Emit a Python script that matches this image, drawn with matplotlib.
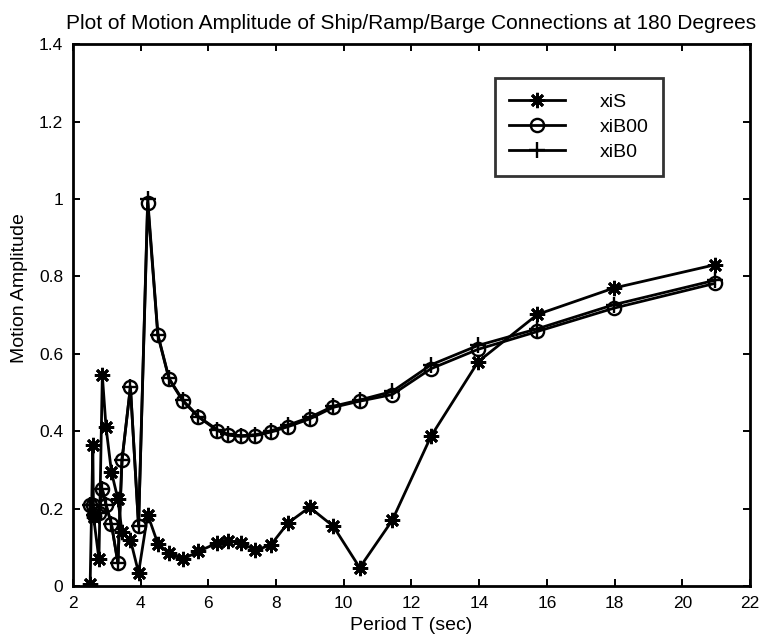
import matplotlib.pyplot as plt

plt.rcParams['font.family'] = ['Liberation Sans', 'DejaVu Sans']

# Period T (sec).
period = [2.51, 2.59, 2.61, 2.77, 2.87, 2.98, 3.14, 3.33, 3.45, 3.70, 3.94,
          4.21, 4.51, 4.84, 5.25, 5.71, 6.27, 6.59, 6.97, 7.38, 7.84, 8.35,
          8.99, 9.69, 10.47, 11.43, 12.58, 13.97, 15.72, 17.97, 20.95]

xiS = [0.005, 0.365, 0.18, 0.07, 0.545, 0.41, 0.295, 0.225, 0.14, 0.12, 0.035,
       0.185, 0.11, 0.085, 0.07, 0.09, 0.112, 0.118, 0.112, 0.093, 0.106, 0.163,
       0.204, 0.155, 0.048, 0.17, 0.388, 0.58, 0.702, 0.77, 0.83]

xiB00 = [0.21, 0.21, 0.185, 0.19, 0.25, 0.21, 0.16, 0.06, 0.325, 0.515, 0.155,
         0.99, 0.648, 0.535, 0.478, 0.437, 0.402, 0.39, 0.387, 0.389, 0.398, 0.412,
         0.432, 0.462, 0.478, 0.495, 0.562, 0.612, 0.658, 0.718, 0.782]

xiB0 = [0.21, 0.21, 0.185, 0.19, 0.25, 0.21, 0.16, 0.06, 0.325, 0.515, 0.155,
        1.0, 0.65, 0.537, 0.48, 0.438, 0.404, 0.392, 0.389, 0.391, 0.401, 0.416,
        0.436, 0.465, 0.481, 0.503, 0.572, 0.622, 0.665, 0.727, 0.79]

fig = plt.figure(figsize=(7.67, 6.4), dpi=100)
ax = fig.add_axes([0.095, 0.084, 0.883, 0.847])

asterisk = (8, 2, 0)
ax.plot(period, xiS, color='black', linewidth=2.0, marker=asterisk,
        markersize=11, markeredgewidth=2.0, label='xiS')
ax.plot(period, xiB00, color='black', linewidth=2.0, marker='o',
        markersize=9.5, markerfacecolor='none', markeredgewidth=1.7, label='xiB00')
ax.plot(period, xiB0, color='black', linewidth=2.0, marker='+',
        markersize=11, markeredgewidth=1.7, label='xiB0')

ax.set_xlim(2, 22)
ax.set_ylim(0, 1.4)
ax.set_xticks(range(2, 23, 2))
ax.set_yticks([0, 0.2, 0.4, 0.6, 0.8, 1.0, 1.2, 1.4])
ax.set_yticklabels(['0', '0.2', '0.4', '0.6', '0.8', '1', '1.2', '1.4'])
ax.tick_params(direction='in', top=True, right=True, labelsize=12.5, length=5,
               width=1.4, pad=7)
for s in ax.spines.values():
    s.set_linewidth(2.0)

ax.set_title('Plot of Motion Amplitude of Ship/Ramp/Barge Connections at 180 Degrees',
             fontsize=15, pad=11)
ax.set_xlabel('Period T (sec)', fontsize=14, labelpad=4)
ax.set_ylabel('Motion Amplitude', fontsize=14)
ax.yaxis.set_label_coords(-0.066, 0.55)

leg = ax.legend(loc='upper left', bbox_to_anchor=(0.623, 0.937), fontsize=14,
                frameon=True, fancybox=False, edgecolor='black',
                handlelength=2.85, handletextpad=1.8, borderpad=0.75,
                labelspacing=0.4, borderaxespad=0)
leg.get_frame().set_linewidth(2.0)

plt.savefig('out.png')
plt.close()
